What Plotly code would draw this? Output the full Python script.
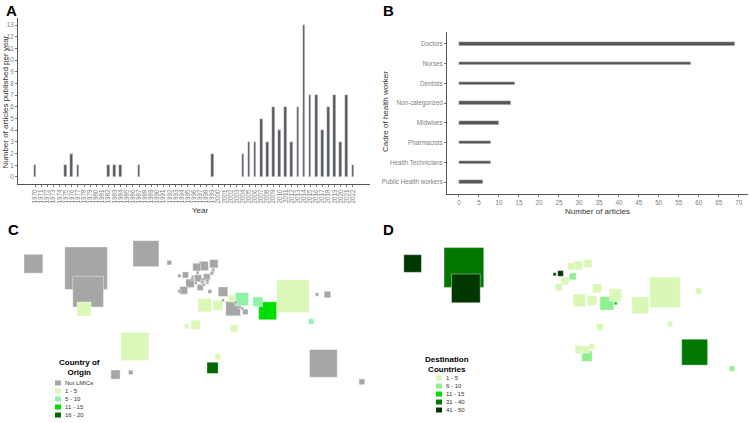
import math
import plotly.graph_objects as go

W, H = 749, 423

# panel A: articles per year
years = [1970, 1975, 1976, 1977, 1982, 1983, 1984, 1987, 1999, 2004, 2005, 2006, 2007,
         2008, 2009, 2010, 2011, 2012, 2013, 2014, 2015, 2016, 2017, 2018, 2019, 2020,
         2021, 2022]
articles = [1, 1, 2, 1, 1, 1, 1, 1, 2, 2, 3, 3, 5, 3, 6, 4, 6, 3, 6, 13, 7, 7, 4, 6, 7, 3,
            7, 1]
all_years = list(range(1970, 2023))

# panel B: cadre of health worker
cadres = ["Doctors", "Nurses", "Dentists", "Non-categorized", "Midwives", "Pharmacists",
          "Health Technicians", "Public Health workers"]
cadre_counts = [69, 58, 14, 13, 10, 8, 8, 6]

# country reference points (no offline map geometry: centroid lon/lat + area in million km2)
country_iso = ["USA", "USA-AK", "CAN", "GRL", "GBR", "IRL", "FRA", "ESP", "PRT", "DEU",
               "ITA", "NLD", "BEL", "CHE", "AUT", "DNK", "NOR", "SWE", "FIN", "ISL", "POL",
               "CZE", "SVK", "HUN", "HRV", "GRC", "EST", "LVA", "LTU", "TUR", "ISR", "SAU",
               "ARE", "OMN", "KWT", "QAT", "JPN", "KOR", "AUS", "NZL", "CHL", "URY", "MEX",
               "BRA", "EGY", "LBY", "NGA", "GHA", "SOM", "IRQ", "CHN", "ZWE", "IRN", "PAK",
               "PHL", "IND", "ZAF", "KEN", "NAM", "BWA", "MYS"]
country_lon = [-98, -152, -100, -41, -2, -8, 2.5, -3.7, -8, 10.4,
               12.5, 5.3, 4.6, 8.2, 14.5, 10, 9, 16, 26, -18, 19,
               15.5, 19.5, 19.5, 16, 22, 25.5, 24.8, 23.9, 35, 35, 45,
               54, 57, 47.6, 51.2, 138, 127.8, 134, 172, -71, -56, -102,
               -52, 30, 17, 8, -1, 46, 43.7, 104, 29.8, 53.7, 69.3,
               122, 79, 24.7, 38, 17, 24, 109]
country_lat = [39, 64, 60, 73, 54, 53.2, 46.5, 40.2, 39.6, 51,
               42.8, 52.2, 50.6, 46.8, 47.6, 56, 61, 62, 64, 65, 52,
               49.8, 48.7, 47.2, 45.2, 39.3, 58.7, 56.9, 55.3, 39, 31.4, 24,
               24, 21, 29.3, 25.3, 36.5, 36.5, -25, -41.5, -35, -33, 23.6,
               -10, 26.8, 27, 9.5, 7.9, 6, 33, 35, -19, 32.4, 30,
               12.5, 22, -29, 0.2, -22.5, -22.3, 3.5]
country_area = [8.08, 1.72, 9.98, 2.17, 0.24, 0.07, 0.55, 0.51, 0.09, 0.36,
                0.30, 0.04, 0.03, 0.04, 0.08, 0.04, 0.32, 0.45, 0.34, 0.10, 0.31,
                0.08, 0.05, 0.09, 0.06, 0.13, 0.045, 0.065, 0.065, 0.78, 0.02, 2.15,
                0.08, 0.31, 0.018, 0.012, 0.38, 0.10, 7.69, 0.27, 0.76, 0.18, 1.96,
                8.52, 1.0, 1.76, 0.92, 0.24, 0.64, 0.44, 9.6, 0.39, 1.65, 0.88,
                0.30, 3.29, 1.22, 0.58, 0.82, 0.58, 0.33]

# panel C: country of origin
origin_classes = ["Not LMICs", "1 - 5", "5 - 10", "11 - 15", "16 - 20"]
origin_colors = ["#a6a6a6", "#dcf8b8", "#8ef3a6", "#00dd00", "#006a00"]
origin_countries = [
    ["USA", "USA-AK", "CAN", "GRL", "GBR", "IRL", "FRA", "ESP", "PRT", "DEU", "ITA", "NLD",
     "BEL", "CHE", "AUT", "DNK", "NOR", "SWE", "FIN", "ISL", "POL", "CZE", "SVK", "HUN",
     "HRV", "GRC", "EST", "LVA", "LTU", "TUR", "ISR", "SAU", "ARE", "OMN", "KWT", "QAT",
     "JPN", "KOR", "AUS", "NZL", "CHL", "URY"],
    ["MEX", "BRA", "EGY", "LBY", "NGA", "GHA", "SOM", "IRQ", "CHN", "ZWE"],
    ["IRN", "PAK", "PHL"],
    ["IND"],
    ["ZAF"],
]

# panel D: destination countries
dest_classes = ["1 - 5", "6 - 10", "11 - 15", "31 - 40", "41 - 50"]
dest_colors = ["#d9f7b5", "#8ef08e", "#00dd00", "#007800", "#003800"]
dest_countries = [
    ["NOR", "SWE", "FIN", "FRA", "ESP", "TUR", "EGY", "LBY", "IRN", "IND", "CHN", "JPN",
     "KEN", "NAM", "BWA", "ZWE", "MYS"],
    ["DEU", "SAU", "ZAF", "NZL"],
    ["ARE"],
    ["CAN", "AUS"],
    ["USA", "USA-AK", "GBR", "IRL"],
]

fig = go.Figure()

fig.add_trace(go.Bar(x=years, y=articles, width=0.45, marker_color="#595959",
                     xaxis="x", yaxis="y", showlegend=False))
fig.add_trace(go.Bar(x=cadre_counts, y=cadres, orientation="h", width=0.17,
                     marker_color="#555555", xaxis="x2", yaxis="y2", showlegend=False))


def map_trace(groups, colors, xa, ya, pxdeg):
    lookup = {}
    for grp, col in zip(groups, colors):
        for iso in grp:
            lookup[iso] = col
    rows = []
    for iso, lon, lat, area in zip(country_iso, country_lon, country_lat, country_area):
        if iso in lookup:
            deg2 = area / (0.01236 * math.cos(math.radians(lat)))
            rows.append((area, lon, lat, lookup[iso], math.sqrt(deg2) * pxdeg, iso))
    rows.sort(reverse=True)
    return go.Scatter(
        x=[r[1] for r in rows], y=[r[2] for r in rows], mode="markers",
        text=[r[5] for r in rows], hoverinfo="text", showlegend=False,
        marker=dict(symbol="square", color=[r[3] for r in rows], opacity=1,
                    size=[max(r[4], 3) for r in rows], line=dict(color="white", width=0.4)),
        xaxis=xa, yaxis=ya)


fig.add_trace(map_trace(origin_countries, origin_colors, "x3", "y3", 1.06))
fig.add_trace(map_trace(dest_countries, dest_colors, "x4", "y4", 0.99))


def px(x):
    return x / W


def py(y):
    return 1 - y / H


tick_font = dict(family="Liberation Sans Narrow, Liberation Sans, Arial", size=6.3,
                 color="#7f7f7f")
line_style = dict(showline=True, linecolor="#555555", linewidth=1, ticks="outside",
                  ticklen=2, tickcolor="#777777", showgrid=False, zeroline=False,
                  automargin=False, tickfont=tick_font)
hidden = dict(visible=False, showgrid=False, zeroline=False, automargin=False,
              fixedrange=True)

fig.update_layout(
    width=W, height=H, margin=dict(l=0, r=0, t=0, b=0),
    paper_bgcolor="white", plot_bgcolor="rgba(0,0,0,0)", bargap=0,
    xaxis=dict(domain=[px(18), px(370)], range=[1967.2, 2024.8], tickmode="array",
               tickvals=all_years, ticktext=[str(y) for y in all_years], tickangle=-90,
               **line_style),
    yaxis=dict(domain=[py(184), py(18)], range=[-0.6, 13.6], dtick=1, **line_style),
    xaxis2=dict(domain=[px(447), px(748)], range=[-3, 72.3], dtick=5, anchor="y2",
                **line_style),
    yaxis2=dict(domain=[py(194), py(32)], range=[7.6, -0.6], anchor="x2", **line_style),
    xaxis3=dict(domain=[px(5), px(370)], range=[-180, 180], anchor="y3", **hidden),
    yaxis3=dict(domain=[py(402), py(238)], range=[-59.5, 87], anchor="x3", **hidden),
    xaxis4=dict(domain=[px(385), px(740)], range=[-180, 180], anchor="y4", **hidden),
    yaxis4=dict(domain=[py(402), py(238)], range=[-75, 89.6], anchor="x4", **hidden),
)

title_font = dict(family="Liberation Sans, Arial", size=8, color="#333333")
for text, x, y, ang in [("Number of articles published per year", 4.5, 102, -90),
                        ("Year", 200, 211, 0),
                        ("Cadre of health worker", 386, 112, -90),
                        ("Number of articles", 597, 212, 0)]:
    fig.add_annotation(text=text, x=px(x), y=py(y), xref="paper", yref="paper",
                       xanchor="center", yanchor="middle", textangle=ang,
                       showarrow=False, font=title_font)

# panel letters
for letter, x, y in [("A", 4, 10), ("B", 381, 10), ("C", 6, 229), ("D", 381, 229)]:
    fig.add_annotation(text="<b>%s</b>" % letter, x=px(x), y=py(y), xref="paper",
                       yref="paper", xanchor="left", yanchor="middle", showarrow=False,
                       font=dict(family="Liberation Sans, Arial", size=15, color="black"))

# map legends
leg_font = dict(family="Liberation Sans, Arial", size=6, color="#333333")
for title, classes, colors, cx, ty, bx, y0 in [
        ("Country of<br>Origin", origin_classes, origin_colors, 79, 367, 55, 383),
        ("Destination<br>Countries", dest_classes, dest_colors, 447, 364, 436, 378)]:
    fig.add_annotation(text="<b>%s</b>" % title, x=px(cx), y=py(ty), xref="paper",
                       yref="paper", xanchor="center", yanchor="middle", showarrow=False,
                       font=dict(family="Liberation Sans, Arial", size=8, color="black"))
    for i, (cls, col) in enumerate(zip(classes, colors)):
        yy = y0 + i * 8
        fig.add_shape(type="rect", xref="paper", yref="paper", x0=px(bx), x1=px(bx + 6),
                      y0=py(yy + 2.5), y1=py(yy - 2.5), fillcolor=col, line_width=0)
        fig.add_annotation(text=cls, x=px(bx + 8), y=py(yy), xref="paper", yref="paper",
                           xanchor="left", yanchor="middle", showarrow=False,
                           font=leg_font)

fig.write_html("out.html", config={"displayModeBar": False},
               post_script="document.body.style.margin='0';")
